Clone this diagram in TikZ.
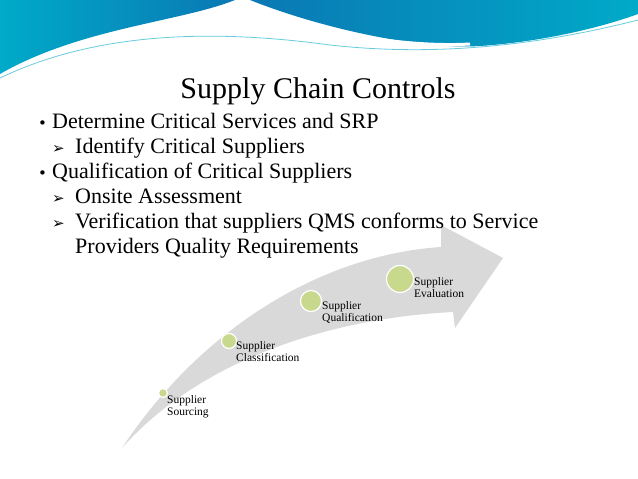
\documentclass[tikz,border=0pt]{standalone}
\usepackage{fontspec}
\setmainfont{Liberation Serif}
\newfontfamily\symfont{DejaVu Sans}
\usetikzlibrary{positioning}
\definecolor{teal1}{RGB}{0,170,200}
\definecolor{blue1}{RGB}{10,120,180}
\definecolor{greenc}{RGB}{200,216,140}
\definecolor{band}{RGB}{217,217,217}
\begin{document}
\begin{tikzpicture}[x=1pt, y=-1pt,
   MyText/.style={anchor=base west, inner sep=0pt, font=\fontsize{22}{22}\selectfont},
   MySym/.style={anchor=base west, inner sep=0pt, font=\symfont\fontsize{15}{15}\selectfont},
   MyDot/.style={circle, fill=greenc, draw=white, line width=1.2pt, inner sep=0pt},
   MyLabel/.style={anchor=north west, inner sep=0pt, align=left,
                   font=\fontsize{11.5}{12.5}\selectfont},
  ]
\useasboundingbox (0,0) rectangle (638,479);
\fill[white] (0,0) rectangle (638,479);
% top waves
\shade[left color=teal1, right color=blue1] (0,0) -- (235,0)
  .. controls (180,22) and (80,28) .. (0,74) -- cycle;
\shade[left color=blue1, right color=teal1] (250,0)
  .. controls (320,28) and (420,50) .. (480,46)
  .. controls (540,42) and (600,28) .. (638,14) -- (638,0) -- cycle;
\draw[teal1!60, line width=0.8pt] (0,78) .. controls (100,30) and (220,30) .. (330,45)
  .. controls (420,55) and (520,50) .. (638,20);
\draw[white, line width=3pt] (240,0) .. controls (300,30) and (400,48) .. (470,44);
% band arrow
\fill[band] (122,448) .. controls (200,330) and (320,255) .. (441,247)
  -- (441,225) -- (503,258) -- (455,328) -- (453,312)
  .. controls (330,318) and (200,360) .. (122,448) -- cycle;
\node[anchor=base, inner sep=0pt, font=\fontsize{30}{30}\selectfont] (title) at (318,98) {Supply Chain Controls};
\node[MySym] (b1) at (38,128) {•};
\node[MyText] (t1) at (52,128) {Determine Critical Services and SRP};
\node[MySym] (a1) at (52,153) {➢};
\node[MyText] (t2) at (75,153) {Identify Critical Suppliers};
\node[MySym] (b2) at (38,178) {•};
\node[MyText] (t3) at (52,178) {Qualification of Critical Suppliers};
\node[MySym] (a2) at (52,203) {➢};
\node[MyText] (t4) at (75,203) {Onsite Assessment};
\node[MySym] (a3) at (52,228) {➢};
\node[MyText] (t5) at (75,228) {Verification that suppliers QMS conforms to Service};
\node[MyText] (t6) at (75,253) {Providers Quality Requirements};
% stages
\node[MyDot, minimum size=9pt] (d1) at (163,393) {};
\node[MyDot, minimum size=15pt] (d2) at (229,341) {};
\node[MyDot, minimum size=21pt] (d3) at (311,301) {};
\node[MyDot, minimum size=27pt] (d4) at (400,279) {};
\node[MyLabel] (l1) at (167,395) {Supplier\\Sourcing};
\node[MyLabel] (l2) at (236,341) {Supplier\\Classification};
\node[MyLabel] (l3) at (322,301) {Supplier\\Qualification};
\node[MyLabel] (l4) at (414,277) {Supplier\\Evaluation};
\end{tikzpicture}
\end{document}
